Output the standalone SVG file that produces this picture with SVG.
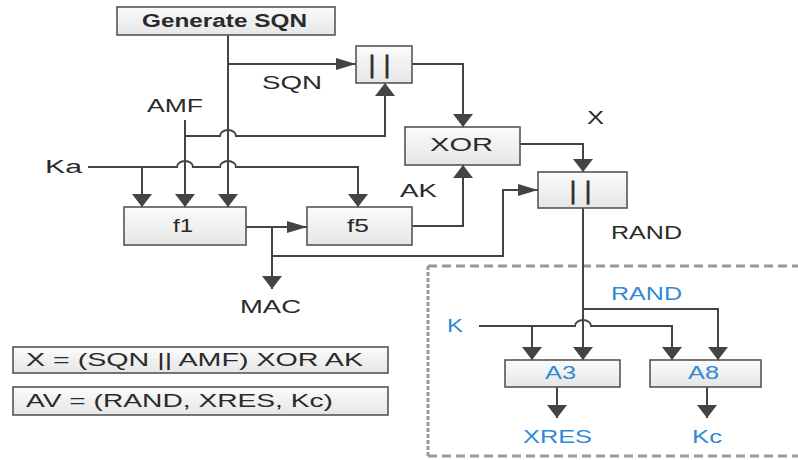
<svg xmlns="http://www.w3.org/2000/svg" width="798" height="460" viewBox="0 0 798 460">
<defs>
<linearGradient id="g" x1="0" y1="0" x2="0" y2="1"><stop offset="0" stop-color="#fbfbfb"/><stop offset="1" stop-color="#e6e6e6"/></linearGradient>
<marker id="av" markerUnits="userSpaceOnUse" markerWidth="13" markerHeight="20" refX="13" refY="10" orient="auto"><path d="M0,0 L13,10 L0,20 Z" fill="#444"/></marker>
<marker id="ah" markerUnits="userSpaceOnUse" markerWidth="20" markerHeight="12" refX="20" refY="6" orient="auto"><path d="M0,0 L20,6 L0,12 Z" fill="#444"/></marker>
<style>
.box{fill:url(#g);stroke:#555;stroke-width:1.6}
.t{font-family:"Liberation Sans",Arial,sans-serif;font-size:18px;fill:#2a2a2a}
.b{fill:#2f8ad3}
.c{fill:none;stroke:#444;stroke-width:2}
.v{marker-end:url(#av)}
.h{marker-end:url(#ah)}
.d{fill:none;stroke:#999;stroke-width:3}
.bar{font-size:23px;stroke:#2a2a2a;stroke-width:0.8}
</style>
</defs>
<rect width="798" height="460" fill="#fff"/>
<g id="region">
<path class="d" d="M428,266 H798 M428,456 H798" stroke-dasharray="9 5"/>
<path class="d" d="M428,266 V456" stroke-dasharray="4 2"/>
</g>
<g id="connectors">
<path class="c v" d="M228,35 V207"/>
<path class="c h" d="M228,64 H356"/>
<path class="c v" d="M185,120 V207"/>
<path class="c v" d="M185,136 H220 A8,6 0 0 1 236,136 H385 V83"/>
<path class="c v" d="M88,167 H177 A8,6 0 0 1 193,167 H220 A8,6 0 0 1 236,167 H358 V207"/>
<path class="c v" d="M142,167 V207"/>
<path class="c h" d="M246,227 H307"/>
<path class="c v" d="M272,227 V289"/>
<path class="c h" d="M272,256 H503 V190 H538"/>
<path class="c v" d="M412,226 H463 V165"/>
<path class="c v" d="M412,64 H463 V127"/>
<path class="c v" d="M520,144 H583 V172"/>
<path class="c v" d="M583,208 V360"/>
<path class="c v" d="M583,309 H718 V360"/>
<path class="c v" d="M479,326 H575 A8,6 0 0 1 591,326 H672 V360"/>
<path class="c v" d="M532,326 V360"/>
<path class="c v" d="M557,387 V418"/>
<path class="c v" d="M707,387 V418"/>
</g>
<g id="gen"><rect class="box" x="117" y="7" width="218" height="28"/><text class="t" x="142" y="27" font-weight="bold" font-size="16" textLength="165" lengthAdjust="spacingAndGlyphs">Generate SQN</text></g>
<g id="cat1"><rect class="box" x="356" y="46" width="56" height="37"/><text class="t bar" x="384" y="73" text-anchor="middle" letter-spacing="9">||</text></g>
<g id="xor"><rect class="box" x="405" y="127" width="115" height="38"/><text class="t" x="430" y="151" textLength="63" lengthAdjust="spacingAndGlyphs">XOR</text></g>
<g id="cat2"><rect class="box" x="538" y="172" width="89" height="36"/><text class="t bar" x="585" y="199" text-anchor="middle" letter-spacing="9">||</text></g>
<g id="f1"><rect class="box" x="124" y="207" width="122" height="38"/><text class="t" x="173" y="232" textLength="20" lengthAdjust="spacingAndGlyphs">f1</text></g>
<g id="f5"><rect class="box" x="307" y="207" width="105" height="38"/><text class="t" x="347" y="232" textLength="22" lengthAdjust="spacingAndGlyphs">f5</text></g>
<g id="a3"><rect class="box" x="505" y="360" width="115" height="27"/><text class="t b" x="545" y="379" textLength="31" lengthAdjust="spacingAndGlyphs">A3</text></g>
<g id="a8"><rect class="box" x="650" y="360" width="111" height="27"/><text class="t b" x="688" y="379" textLength="31" lengthAdjust="spacingAndGlyphs">A8</text></g>
<g id="eq1"><rect class="box" x="13" y="347" width="375" height="26"/><text class="t" x="26" y="366" textLength="337" lengthAdjust="spacingAndGlyphs">X = (SQN || AMF) XOR AK</text></g>
<g id="eq2"><rect class="box" x="13" y="387" width="375" height="28"/><text class="t" x="26" y="407" textLength="307" lengthAdjust="spacingAndGlyphs">AV = (RAND, XRES, Kc)</text></g>
<g id="labels">
<text class="t" x="262" y="89" textLength="60" lengthAdjust="spacingAndGlyphs">SQN</text>
<text class="t" x="147" y="112" textLength="56" lengthAdjust="spacingAndGlyphs">AMF</text>
<text class="t" x="45" y="173" textLength="37" lengthAdjust="spacingAndGlyphs">Ka</text>
<text class="t" x="400" y="197" textLength="37" lengthAdjust="spacingAndGlyphs">AK</text>
<text class="t" x="587" y="124" textLength="17" lengthAdjust="spacingAndGlyphs">X</text>
<text class="t" x="611" y="239" textLength="71" lengthAdjust="spacingAndGlyphs">RAND</text>
<text class="t" x="240" y="313" textLength="61" lengthAdjust="spacingAndGlyphs">MAC</text>
<text class="t b" x="611" y="300" textLength="71" lengthAdjust="spacingAndGlyphs">RAND</text>
<text class="t b" x="447" y="332" textLength="16" lengthAdjust="spacingAndGlyphs">K</text>
<text class="t b" x="523" y="443" textLength="69" lengthAdjust="spacingAndGlyphs">XRES</text>
<text class="t b" x="692" y="443" textLength="30" lengthAdjust="spacingAndGlyphs">Kc</text>
</g>
</svg>
